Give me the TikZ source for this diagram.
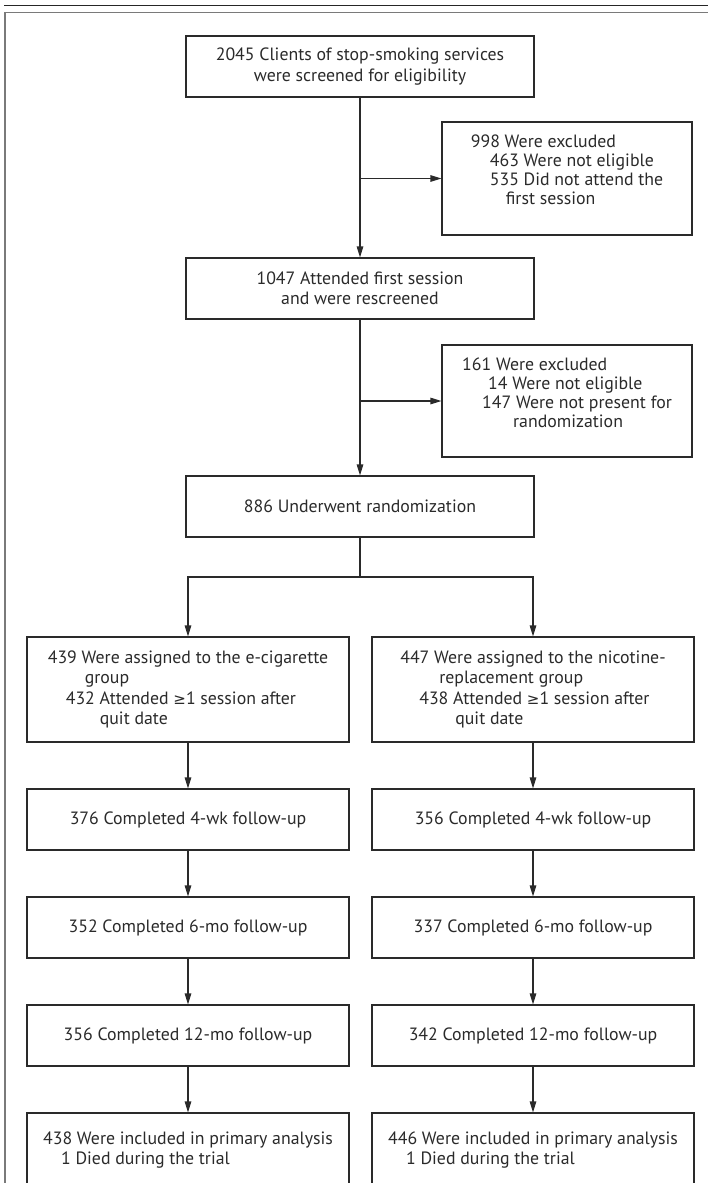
\documentclass[tikz,border=0pt]{standalone}
\usepackage{fontspec}
\setmainfont{PT Sans}
\newfontfamily\symf{DejaVu Sans}
\usetikzlibrary{arrows.meta}
\definecolor{ink}{HTML}{2A2A2A}
\definecolor{framegray}{HTML}{7A7A7A}
\newcommand{\geqsym}{{\symf\fontsize{15}{20}\selectfont ≥}}
\begin{document}
\begin{tikzpicture}[x=1pt,y=-1pt,
  box/.style={draw=ink, line width=1.1pt, text=ink, inner sep=0pt,
    font=\fontsize{17.8}{20.5}\selectfont, minimum height=61pt},
  mainbox/.style={box, minimum width=348pt, align=center},
  exbox/.style={box, minimum width=250pt, align=left, font=\fontsize{17.8}{19}\selectfont},
  grpbox/.style={box, minimum width=322pt, align=left},
  conn/.style={draw=ink, line width=1.1pt},
  arr/.style={conn, -{Triangle[length=11pt,width=6.5pt]}}]
\useasboundingbox (0,0) rectangle (708,1183);
\clip (0,0) rectangle (708,1183);
% frame
\draw[line width=1.4pt, color=black!85] (4,5.7) -- (712,5.7);
\draw[line width=1.8pt, color=framegray] (5,1195) -- (5,12.5) -- (712,12.5);
% main column
\node[mainbox] (b1) at (360,66.5) {2045 Clients of stop-smoking services\\were screened for eligibility};
\node[exbox, minimum height=113pt] (e1) at (567,178.5) {998 Were excluded\\\hspace*{19pt}463 Were not eligible\\\hspace*{19pt}535 Did not attend the\\\hspace*{35pt}first session\\[-2pt]\mbox{}};
\node[mainbox] (b2) at (360,288.5) {1047 Attended first session\\and were rescreened};
\node[exbox, minimum height=112pt] (e2) at (567,401) {161 Were excluded\\\hspace*{26pt}14 Were not eligible\\\hspace*{20pt}147 Were not present for\\\hspace*{51pt}randomization\\[-2pt]\mbox{}};
\node[mainbox] (b3) at (360,506.5) {886 Underwent randomization};
\coordinate (split) at (360,577);
% groups
\node[grpbox, minimum height=105pt] (gL) at (188,689.5) {439 Were assigned to the e-cigarette\\\hspace*{37pt}group\\\hspace*{18pt}432 Attended \geqsym1 session after\\\hspace*{52pt}quit date};
\node[grpbox, minimum height=105pt] (gR) at (533,689.5) {447 Were assigned to the nicotine-\\\hspace*{39pt}replacement group\\\hspace*{19pt}438 Attended \geqsym1 session after\\\hspace*{55pt}quit date};
\node[grpbox, align=center] (f1L) at (188,819.5) {376 Completed 4-wk follow-up};
\node[grpbox, align=center] (f1R) at (533,819.5) {356 Completed 4-wk follow-up};
\node[grpbox, align=center] (f2L) at (188,927.5) {352 Completed 6-mo follow-up};
\node[grpbox, align=center] (f2R) at (533,927.5) {337 Completed 6-mo follow-up};
\node[grpbox, align=center] (f3L) at (188,1035.5) {356 Completed 12-mo follow-up};
\node[grpbox, align=center] (f3R) at (533,1035.5) {342 Completed 12-mo follow-up};
\node[grpbox, minimum height=74pt] (fLL) at (188,1150) {438 Were included in primary analysis\\\hspace*{18pt}1 Died during the trial};
\node[grpbox, minimum height=74pt] (fRR) at (533,1150) {446 Were included in primary analysis\\\hspace*{18pt}1 Died during the trial};
% connectors
\draw[arr] (b1) -- (b2);
\coordinate (j1) at (b1.south |- e1.west);
\draw[arr] (j1) -- (e1.west);
\draw[arr] (b2) -- (b3);
\coordinate (j2) at (b2.south |- e2.west);
\draw[arr] (j2) -- (e2.west);
\draw[conn] (b3.south) -- (split);
\draw[arr] (split) -| (gL.north);
\draw[arr] (split) -| (gR.north);
\draw[arr] (gL) -- (f1L);
\draw[arr] (gR) -- (f1R);
\draw[arr] (f1L) -- (f2L);
\draw[arr] (f1R) -- (f2R);
\draw[arr] (f2L) -- (f3L);
\draw[arr] (f2R) -- (f3R);
\draw[arr] (f3L) -- (fLL);
\draw[arr] (f3R) -- (fRR);
\end{tikzpicture}
\end{document}
